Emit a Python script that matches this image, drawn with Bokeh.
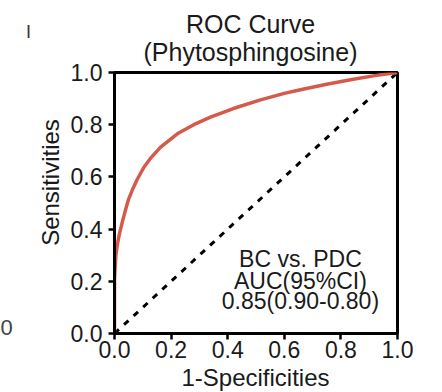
import math
from bokeh.plotting import figure
from bokeh.models import Range1d, FixedTicker, PrintfTickFormatter, Label
from bokeh.embed import file_html
from bokeh.resources import INLINE

# ROC curve values
fpr = [0.0, 0.0, 0.002, 0.005, 0.01, 0.017, 0.026, 0.038, 0.05, 0.065, 0.08, 0.104,
       0.13, 0.163, 0.222, 0.28, 0.339, 0.42, 0.516, 0.6, 0.657, 0.75, 0.834, 0.92, 1.0]
tpr = [0.0, 0.2, 0.25, 0.3, 0.34, 0.38, 0.42, 0.47, 0.515, 0.555, 0.59, 0.637,
       0.675, 0.714, 0.765, 0.80, 0.829, 0.862, 0.895, 0.92, 0.934, 0.955, 0.972, 0.988, 1.0]
ref_x = [0.0, 1.0]
ref_y = [0.0, 1.0]
ticks = [0.0, 0.2, 0.4, 0.6, 0.8, 1.0]
title_lines = ["ROC Curve", "(Phytosphingosine)"]
anno_lines = ["BC vs. PDC", "AUC(95%CI)", "0.85(0.90-0.80)"]
x_label = "1-Specificities"
y_label = "Sensitivities"

FONT = "Liberation Sans"
TXT = "#1a1a1a"

p = figure(width=442, height=392, frame_width=283, frame_height=261,
           min_border_left=114, min_border_right=45, min_border_top=72,
           min_border_bottom=59, output_backend="svg", toolbar_location=None,
           x_range=Range1d(0, 1), y_range=Range1d(0, 1))
p.title.visible = False
p.grid.visible = False
p.outline_line_color = "black"
p.outline_line_width = 3
p.outline_line_alpha = 1.0
p.background_fill_color = "white"
p.border_fill_color = "white"

for ax in (p.xaxis[0], p.yaxis[0]):
    ax.ticker = FixedTicker(ticks=ticks)
    ax.formatter = PrintfTickFormatter(format="%.1f")
    ax.axis_line_width = 3
    ax.axis_line_color = "black"
    ax.major_tick_line_width = 2.5
    ax.major_tick_line_color = "black"
    ax.major_tick_in = 0
    ax.major_tick_out = 6
    ax.minor_tick_line_color = None
    ax.major_label_text_font = FONT
    ax.major_label_text_font_size = "23px"
    ax.major_label_text_color = TXT
p.xaxis.major_label_standoff = 1
p.yaxis.major_label_standoff = 6

p.line(ref_x, ref_y, line_color="black", line_width=3, line_dash="6 7")
p.line(fpr, tpr, line_color="#d65a4a", line_width=3.5)

# title lines (canvas pixels, in the top panel)
title_y = [23.5, 51]
for t, ty in zip(title_lines, title_y):
    p.add_layout(Label(x=250, y=ty, x_units="canvas", y_units="canvas", text=t,
                       text_align="center", text_baseline="middle", text_font=FONT,
                       text_font_size="25px", text_color=TXT), "above")

# annotation inside the plot
anno_y = [0.286, 0.203, 0.123]
for t, ty in zip(anno_lines, anno_y):
    p.add_layout(Label(x=0.657, y=ty, text=t, text_align="center",
                       text_baseline="middle", text_font=FONT,
                       text_font_size="23px", text_color=TXT))

# axis titles (canvas pixels, in side panels)
p.add_layout(Label(x=255, y=377, x_units="canvas", y_units="canvas", text=x_label,
                   text_align="center", text_baseline="middle", text_font=FONT,
                   text_font_size="24px", text_color=TXT), "below")
p.add_layout(Label(x=50, y=182, x_units="canvas", y_units="canvas", text=y_label,
                   angle=math.pi / 2, text_align="center", text_baseline="middle",
                   text_font=FONT, text_font_size="24px", text_color=TXT), "left")

# stray fragments from a neighbouring panel
p.add_layout(Label(x=28, y=31, x_units="canvas", y_units="canvas", text="I",
                   text_align="center", text_baseline="middle", text_font=FONT,
                   text_font_size="18px", text_color="#333333"), "left")
p.add_layout(Label(x=6, y=327, x_units="canvas", y_units="canvas", text="0",
                   text_align="center", text_baseline="middle", text_font=FONT,
                   text_font_size="22px", text_color="#444444"), "left")

open("out.html", "w").write(file_html(p, INLINE))
